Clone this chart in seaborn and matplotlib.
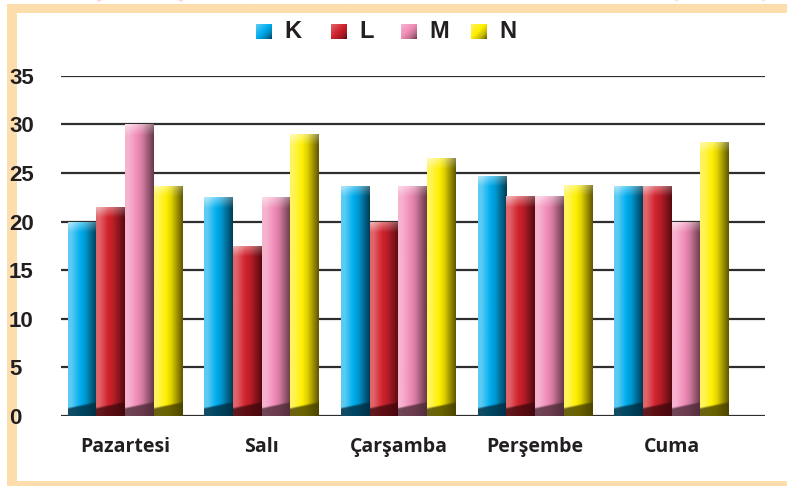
import numpy as np
import pandas as pd
import matplotlib
matplotlib.use("Agg")
import matplotlib.pyplot as plt
from matplotlib.patches import Rectangle, Arc
from matplotlib.transforms import IdentityTransform
import seaborn as sns

# Weekly values for the four series
days = ["Pazartesi", "Salı", "Çarşamba", "Perşembe", "Cuma"]
series = ["K", "L", "M", "N"]
k_vals = [20, 22.5, 23.7, 24.7, 23.7]
l_vals = [21.5, 17.5, 20, 22.6, 23.7]
m_vals = [30, 22.5, 23.7, 22.6, 20]
n_vals = [23.7, 29, 26.5, 23.8, 28.2]
y_ticks = [0, 5, 10, 15, 20, 25, 30, 35]

# light / base / dark tones for the cylinder shading of each series
shades = {
    "K": ("#5CCBF3", "#00AEEF", "#003C55"),
    "L": ("#E0646A", "#D2232E", "#560A10"),
    "M": ("#F6B3CF", "#F08DB8", "#663849"),
    "N": ("#FFF45A", "#FFF000", "#5F5500"),
}

df = pd.DataFrame({
    "day": days * 4,
    "series": [s for s in series for _ in days],
    "value": k_vals + l_vals + m_vals + n_vals,
})

W, H, DPI = 787, 486, 100
sns.set_style("white")
plt.rcParams["font.family"] = ["Liberation Sans", "DejaVu Sans"]

fig = plt.figure(figsize=(W / DPI, H / DPI), dpi=DPI)
ax = fig.add_axes([61 / W, 70 / H, 704 / W, 340.3 / H])

sns.barplot(data=df, x="day", y="value", hue="series", order=days,
            hue_order=series, palette={s: shades[s][1] for s in series},
            width=0.84, saturation=1, errorbar=None, linewidth=0,
            legend=False, ax=ax, zorder=2)

XLIM = (-0.469, 4.683)
YLIM = (0, 35)
ax.set_xlim(*XLIM)
ax.set_ylim(*YLIM)
px_per_x = 704 / (XLIM[1] - XLIM[0])
px_per_y = 340.3 / (YLIM[1] - YLIM[0])


def to_rgb(c):
    return np.array(matplotlib.colors.to_rgb(c))


def cylinder(light, mid, dark, wpx, hpx):
    """RGBA image of a shaded bar, wpx x hpx pixels."""
    lt, md, dk = to_rgb(light), to_rgb(mid), to_rgb(dark)
    sx = 3
    w = max(int(wpx * sx), 2)
    h = max(int(hpx * sx), 2)
    u = np.linspace(0, 1, w)
    stops = [0, 0.12, 0.42, 0.6, 1.0]
    cols = [lt, lt, md, md * 0.8 + dk * 0.2, dk]
    row = np.stack([np.interp(u, stops, [c[i] for c in cols]) for i in range(3)], axis=-1)
    img = np.repeat(row[None, :, :], h, axis=0)
    ypx = (np.arange(h) / sx)[:, None]
    uu = u[None, :]
    # light cap on top
    t = np.clip(1 - ypx / 11.0, 0, 1) * (1 - 0.45 * uu)
    img = img + (1 - img) * (0.55 * t)[..., None]
    # dark floor band at the bottom, slanted
    d = hpx - ypx
    band = 8 + 6 * uu
    f = np.clip((band - d) / 2.0 + 0.5, 0, 1) * 0.8
    img = img * (1 - f[..., None]) + (dk * 0.75)[None, None, :] * f[..., None]
    rgba = np.concatenate([np.clip(img, 0, 1), np.ones((h, w, 1))], axis=-1)
    return rgba


for s, cont in zip(series, ax.containers):
    light, mid, dark = shades[s]
    for bar in cont:
        x0, bw, bh = bar.get_x(), bar.get_width(), bar.get_height()
        img = cylinder(light, mid, dark, bw * px_per_x, bh * px_per_y)
        im = ax.imshow(img, extent=(x0, x0 + bw, 0, bh), aspect="auto",
                       origin="upper", interpolation="bilinear", zorder=3)
        im.set_clip_path(bar)

ax.set_xlim(*XLIM)
ax.set_ylim(*YLIM)

# horizontal rules
ax.set_yticks(y_ticks)
ax.yaxis.grid(True, color="#2E2E2E", linewidth=1.6)
ax.xaxis.grid(False)
ax.set_axisbelow(True)
for sp in ax.spines.values():
    sp.set_visible(False)

ax.set_xlabel("")
ax.set_ylabel("")
ax.tick_params(axis="y", length=0, pad=37.4)
ax.tick_params(axis="x", length=0, pad=15)
for lab in ax.get_yticklabels():
    lab.set_horizontalalignment("left")
    lab.set_fontsize(16)
    lab.set_fontweight("bold")
    lab.set_color("#231F20")
ax.set_xticks(range(len(days)))
ax.set_xticklabels(days, fontsize=14, fontweight="bold", color="#231F20",
                   family=["Open Sans", "DejaVu Sans"])

# legend: shaded swatches with letters
sw_x = [256, 331, 401, 471]
tx_x = [284, 359, 429, 499]
for s, sx_, tx in zip(series, sw_x, tx_x):
    light, mid, dark = shades[s]
    lt, md, dk = to_rgb(light), to_rgb(mid), to_rgb(dark)
    n = 16
    a = np.linspace(0, 1, n)
    diag = (a[None, :] + a[:, None]) / 2
    img = np.zeros((15, n, 3))
    dd = diag[:15, :]
    for i in range(3):
        img[..., i] = np.interp(dd, [0, 0.45, 0.75, 1], [lt[i], md[i], md[i] * 0.6 + dk[i] * 0.4, dk[i]])
    fig.figimage(img, xo=sx_, yo=H - 39, origin="upper", zorder=5)
    fig.text(tx / W, (H - 32) / H, s, fontsize=17, fontweight="bold",
             color="#231F20", ha="left", va="center", fontstretch="condensed",
             family=["Liberation Sans Narrow", "Liberation Sans", "DejaVu Sans"])

# page frame, kept beneath the axes so the tick labels sit on top
frame = "#FEDDAC"
clip = Rectangle((0, H - 8), W, 8, transform=IdentityTransform())
for cx, cy, rw, rh, t1, t2 in [(140, 470, 110, 50, 20, 160), (300, 470, 140, 50, 20, 160),
                                (560, 470, 170, 50, 20, 160), (720, 470, 120, 50, 20, 160)]:
    arc = Arc((cx, cy), rw, rh, theta1=t1, theta2=t2, color="#F9D7DA",
              lw=3, transform=IdentityTransform(), zorder=-2)
    arc.set_clip_path(clip)
    fig.patches.append(arc)
for rect in [(7 / W, 1 - 13 / H, 1 - 7 / W, 9 / H),
             (7 / W, 0, 10 / W, 1 - 4 / H),
             (7 / W, 0, 1 - 7 / W, 5 / H)]:
    fig.patches.append(Rectangle(rect[:2], rect[2], rect[3], transform=fig.transFigure,
                                 facecolor=frame, edgecolor="none", lw=0, zorder=-1))

fig.savefig("out.png", dpi=DPI)
